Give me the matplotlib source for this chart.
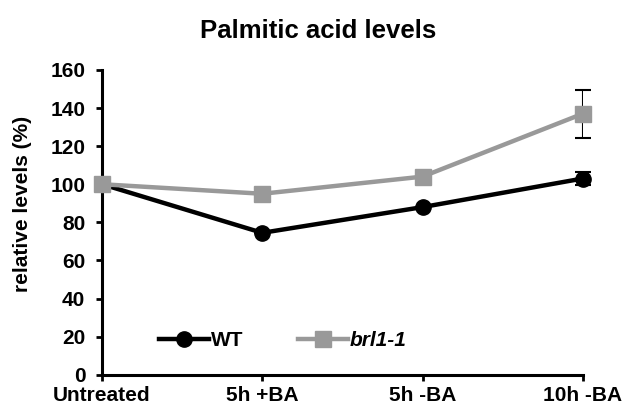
import matplotlib
matplotlib.use("Agg")
import matplotlib.pyplot as plt
from matplotlib.lines import Line2D

# data
conditions = ["Untreated", "5h +BA", "5h -BA", "10h -BA"]
wt = [100, 74.5, 88, 103]
wt_err = [0, 0, 0, 3.5]
brl = [100, 95, 104, 137]
brl_err = [0, 0, 0, 12.5]

plt.rcParams['font.family'] = ['Liberation Sans', 'DejaVu Sans']
plt.rcParams['font.weight'] = 'bold'

fig = plt.figure(figsize=(6.26, 4.16), dpi=100)
ax = fig.add_axes([0.163, 0.099, 0.768, 0.733])

x = list(range(len(conditions)))
ax.errorbar(x, wt, yerr=wt_err, color='black', lw=3.2, marker='o', ms=11,
            ecolor='black', elinewidth=1.5, capsize=6, capthick=1.5, zorder=3)
ax.errorbar(x, brl, yerr=brl_err, color='#999999', lw=3.2, marker='s', ms=11,
            ecolor='black', elinewidth=1.5, capsize=6, capthick=1.5, zorder=4)

ax.set_xlim(0, 3)
ax.set_ylim(0, 160)
ax.set_yticks(range(0, 161, 20))
ax.set_xticks(x)
ax.set_xticklabels(conditions)
for s in ['top', 'right']:
    ax.spines[s].set_visible(False)
for s in ['left', 'bottom']:
    ax.spines[s].set_linewidth(2.2)
ax.tick_params(width=2, length=4, labelsize=15, direction='out')
ax.tick_params(axis='y', pad=8)
ax.tick_params(axis='x', pad=4)
ax.set_ylabel('relative levels (%)', fontsize=15, fontweight='bold')
ax.yaxis.set_label_coords(-0.145, 0.56)
fig.text(0.508, 1 - 31 / 416, 'Palmitic acid levels', fontsize=18.5,
         fontweight='bold', ha='center', va='center')

handles = [Line2D([], [], color='black', lw=3.2, marker='o', ms=11),
           Line2D([], [], color='#999999', lw=3.2, marker='s', ms=11)]
leg = ax.legend(handles, ['WT', 'brl1-1'], loc='lower left',
                bbox_to_anchor=(0.08, 0.02), ncol=2, frameon=False,
                fontsize=15, handlelength=2.4, handletextpad=0.1,
                columnspacing=2.6)
leg.get_texts()[1].set_fontstyle('italic')
for line in ax.lines:
    line.set_clip_on(False)

fig.savefig('out.png', dpi=100)
